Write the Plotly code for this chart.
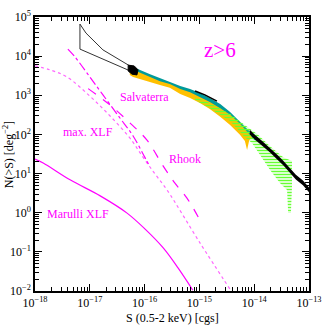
import numpy as np
import plotly.graph_objects as go

# ---------------- data (log10 values) ----------------
# model curves: log10 S, log10 N(>S)
marulli_logS = [-18.00, -17.85, -17.36, -16.81, -16.32, -15.99, -15.66, -15.39, -15.12]
marulli_logN = [1.37, 1.27, 0.84, 0.43, -0.01, -0.42, -0.90, -1.41, -1.98]

maxxlf_logS = [-18.00, -17.73, -17.42, -17.00, -16.63, -16.27, -16.03, -15.81, -15.59, -14.99, -14.42]
maxxlf_logN = [3.75, 3.65, 3.47, 2.98, 2.47, 1.91, 1.42, 0.99, 0.58, -0.77, -2.00]

salv_logS = [-17.40, -17.27, -17.00, -16.76, -16.45, -16.21, -15.99, -15.90]
salv_logN = [4.18, 3.98, 3.47, 3.01, 2.42, 1.96, 1.40, 1.17]

rhook_logS = [-17.03, -16.63, -16.25, -15.96, -15.66, -15.45, -15.23, -14.99]
rhook_logN = [3.17, 2.75, 2.27, 1.86, 1.19, 0.76, 0.38, -0.19]

# observed bands
teal_logS = [-16.27, -16.21, -15.90, -15.72, -15.54, -15.35, -15.17, -14.99, -14.81, -14.62, -14.44, -14.26, -14.11, -13.99, -13.93]
teal_top = [3.75, 3.72, 3.54, 3.44, 3.36, 3.24, 3.16, 3.06, 2.93, 2.78, 2.57, 2.32, 2.11, 1.99, 1.91]
teal_bot = [3.65, 3.62, 3.44, 3.34, 3.26, 3.13, 3.06, 2.93, 2.80, 2.62, 2.42, 2.16, 1.96, 1.86, 1.83]

yellow_logS = [-16.27, -16.21, -15.90, -15.72, -15.54, -15.35, -15.17, -14.99, -14.81, -14.62, -14.44, -14.26, -14.17, -14.13, -14.09, -14.04]
yellow_top = [3.67, 3.65, 3.47, 3.36, 3.29, 3.16, 3.08, 2.96, 2.83, 2.67, 2.50, 2.27, 2.14, 2.06, 2.01, 1.93]
yellow_bot = [3.52, 3.47, 3.34, 3.26, 3.19, 3.03, 2.93, 2.80, 2.65, 2.45, 2.24, 1.99, 1.83, 1.60, 1.86, 1.91]

green_logS = [-15.08, -14.81, -14.44, -14.08, -13.93, -13.71, -13.47, -13.31, -13.31, -13.33, -13.38, -13.40,
              -13.53, -13.71, -13.89, -14.04, -14.17, -14.44, -14.81, -15.08]
green_logN = [2.96, 2.80, 2.52, 2.14, 1.99, 1.70, 1.42, 1.32, 0.68, -0.01, -0.01, 0.58,
              0.76, 1.09, 1.47, 1.78, 1.93, 2.34, 2.67, 2.88]

black_logS = [-14.08, -13.99, -13.86, -13.71, -13.58, -13.47, -13.35, -13.24, -13.11, -13.00, -12.95]
black_mid = [2.06, 1.93, 1.78, 1.60, 1.42, 1.27, 1.09, 0.91, 0.76, 0.58, 0.50]
black_half = 0.06

blackline_logS = [-15.08, -14.90, -14.68]
blackline_logN = [3.11, 3.01, 2.85]

cone_logS = [-17.18, -17.07, -16.76, -16.21, -16.21, -17.18, -17.18]
cone_logN = [4.82, 4.59, 4.16, 3.70, 3.59, 4.18, 4.82]

blob_logS = [-16.30, -16.19, -16.12, -16.14, -16.23, -16.30, -16.30]
blob_logN = [3.77, 3.75, 3.65, 3.52, 3.54, 3.62, 3.77]

x_decades = [-18, -17, -16, -15, -14, -13]
y_decades = [-2, -1, 0, 1, 2, 3, 4, 5]

MAG = "#ff00ff"
FONT = "Liberation Serif"


def p(a):
    return [10 ** v for v in a]


def band(s, top, bot):
    xs = list(s) + list(s)[::-1] + [s[0]]
    ys = list(top) + list(bot)[::-1] + [top[0]]
    return p(xs), p(ys)


fig = go.Figure()

# teal band
bx, by = band(teal_logS, teal_top, teal_bot)
fig.add_trace(go.Scatter(x=bx, y=by, fill="toself", fillcolor="#009a9a",
                         line=dict(width=0, color="#009a9a"), mode="lines"))
# yellow band
bx, by = band(yellow_logS, yellow_top, yellow_bot)
fig.add_trace(go.Scatter(x=bx, y=by, fill="toself", fillcolor="#ffc000",
                         line=dict(width=0, color="#ffc000"), mode="lines"))
# green hatched
fig.add_trace(go.Scatter(x=p(green_logS), y=p(green_logN), fill="toself", mode="lines",
                         line=dict(width=0, color="#66ff33"),
                         fillpattern=dict(shape="-", fgcolor="#66ff33", bgcolor="rgba(0,0,0,0)",
                                          size=3, solidity=0.5, fillmode="replace")))
# black band
btop = [m + black_half for m in black_mid]
bbot = [m - black_half for m in black_mid]
bx, by = band(black_logS, btop, bbot)
fig.add_trace(go.Scatter(x=bx, y=by, fill="toself", fillcolor="black",
                         line=dict(width=0, color="black"), mode="lines"))
fig.add_trace(go.Scatter(x=p(blackline_logS), y=p(blackline_logN), mode="lines",
                         line=dict(color="black", width=1.5)))
# cone outline and blob
fig.add_trace(go.Scatter(x=p(cone_logS), y=p(cone_logN), mode="lines",
                         line=dict(color="#333333", width=1)))
fig.add_trace(go.Scatter(x=p(blob_logS), y=p(blob_logN), fill="toself", fillcolor="black",
                         mode="lines", line=dict(color="black", width=1)))

# model lines
fig.add_trace(go.Scatter(x=p(marulli_logS), y=p(marulli_logN), mode="lines",
                         line=dict(color=MAG, width=1.2, shape="spline")))
fig.add_trace(go.Scatter(x=p(maxxlf_logS), y=p(maxxlf_logN), mode="lines",
                         line=dict(color="#ff66ff", width=1.2, dash="dot", shape="spline")))
fig.add_trace(go.Scatter(x=p(salv_logS), y=p(salv_logN), mode="lines",
                         line=dict(color=MAG, width=1.2, dash="dashdot", shape="spline")))
fig.add_trace(go.Scatter(x=p(rhook_logS), y=p(rhook_logN), mode="lines",
                         line=dict(color=MAG, width=1.2, dash="dash", shape="spline")))

labels = [
    ("z>6", -14.62, 4.16, 21),
    ("Salvaterra", -16.01, 2.96, 12),
    ("max. XLF", -17.03, 2.06, 12),
    ("Rhook", -15.26, 1.37, 12),
    ("Marulli XLF", -17.22, -0.03, 12),
]
for t, lx, ly, fs in labels:
    fig.add_annotation(x=lx, y=ly, text=t, showarrow=False, xref="x", yref="y",
                       font=dict(family=FONT, size=fs, color=MAG))

# axis titles
fig.add_annotation(x=0.5, y=-0.098, xref="paper", yref="paper", showarrow=False,
                   xanchor="center", yanchor="middle",
                   text="S (0.5-2 keV) [cgs]", font=dict(family=FONT, size=12, color="black"))
fig.add_annotation(x=-0.098, y=0.496, xref="paper", yref="paper", showarrow=False, textangle=-90,
                   xanchor="center", yanchor="middle",
                   text="N(>S) [deg<sup>\u22122</sup>]", font=dict(family=FONT, size=12, color="black"))


def sup(e):
    s = str(e).replace("-", "\u2212")
    return "10<sup>" + s + "</sup>"


def minors(decs):
    out = []
    for e in decs[:-1]:
        for m in range(2, 10):
            out.append(m * 10.0 ** e)
    return out


axis_common = dict(type="log", showline=True, linecolor="black", linewidth=1.5, mirror="allticks",
                   ticks="inside", ticklen=7, tickwidth=1, tickcolor="black", showgrid=False,
                   zeroline=False, automargin=False,
                   tickfont=dict(family=FONT, size=12, color="black"))

fig.update_xaxes(**axis_common, range=[-18, -13], tickmode="array",
                 tickvals=[10.0 ** e for e in x_decades], ticktext=[sup(e) for e in x_decades],
                 minor=dict(tickmode="array", tickvals=minors(x_decades), ticks="inside",
                            ticklen=4, tickcolor="black", showgrid=False))
fig.update_yaxes(**axis_common, range=[-2, 5], tickmode="array",
                 tickvals=[10.0 ** e for e in y_decades], ticktext=[sup(e) for e in y_decades],
                 minor=dict(tickmode="array", tickvals=minors(y_decades), ticks="inside",
                            ticklen=4, tickcolor="black", showgrid=False))

fig.update_layout(width=327, height=327, margin=dict(l=35, r=18, t=17, b=36),
                  paper_bgcolor="white", plot_bgcolor="white", showlegend=False)

fig.write_html("out.html", config={"displayModeBar": False},
               post_script="document.body.style.margin='0';document.body.style.overflow='hidden';")
